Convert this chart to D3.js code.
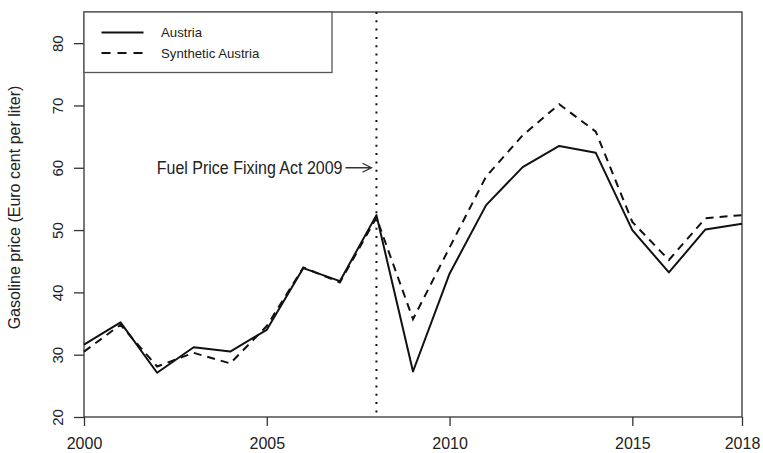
<!DOCTYPE html>
<html>
<head>
<meta charset="utf-8">
<script src="https://cdn.jsdelivr.net/npm/d3@7"></script>
<style>
  body { margin: 0; background: #fff; }
  svg { display: block; }
  text { font-family: "Liberation Sans", Arial, sans-serif; fill: #222; }
</style>
</head>
<body>
<svg width="763" height="453"></svg>
<script>
// data
var years = [2000, 2001, 2002, 2003, 2004, 2005, 2006, 2007, 2008, 2009,
             2010, 2011, 2012, 2013, 2014, 2015, 2016, 2017, 2018];
var austria = [31.6, 35.2, 27.1, 31.2, 30.5, 34.0, 43.9, 41.8, 52.4, 27.3,
               43.0, 54.0, 60.1, 63.5, 62.4, 50.0, 43.2, 50.1, 51.0];
var synthetic = [30.5, 34.8, 28.1, 30.3, 28.6, 34.6, 44.0, 41.6, 52.0, 35.7,
                 47.2, 58.6, 65.2, 70.2, 65.8, 51.3, 45.2, 51.9, 52.4];
var xTicks = [2000, 2005, 2010, 2015, 2018];
var yTicks = [20, 30, 40, 50, 60, 70, 80];
var treatYear = 2008;
var seriesNames = ["Austria", "Synthetic Austria"];

var svg = d3.select("svg"),
    margin = {top: 12, right: 21, bottom: 36, left: 84},
    width = +svg.attr("width") - margin.left - margin.right,
    height = +svg.attr("height") - margin.top - margin.bottom,
    g = svg.append("g").attr("transform", "translate(" + margin.left + "," + margin.top + ")");

var x = d3.scaleLinear().domain([2000, 2018]).range([0, width]);
var y = d3.scaleLinear().domain([20, 85]).range([height, 0]);

var stretch = 1.1; // the original text looks a bit taller than wide

/* ========== AXES ========== */

var xAxis = g.append("g")
    .attr("transform", "translate(0," + height + ")")
    .call(d3.axisBottom(x).tickValues(xTicks).tickFormat(d3.format("d")).tickSize(9));

var yAxis = g.append("g")
    .call(d3.axisLeft(y).tickValues(yTicks).tickSize(10));

[xAxis, yAxis].forEach(function(a) {
    a.select(".domain").remove();
    a.selectAll("line").attr("stroke", "#333").attr("stroke-width", 1.3);
});

// keep the labels low like the original, but inside the page
xAxis.selectAll("text")
    .attr("font-size", 16)
    .attr("fill", "#222")
    .attr("y", null).attr("dy", null)
    .attr("transform", "translate(0,31.5)");

// rotated y tick labels, R style
yAxis.selectAll("text")
    .attr("font-size", 15)
    .attr("fill", "#222")
    .attr("text-anchor", "middle")
    .attr("x", null).attr("dy", null)
    .attr("transform", "translate(-21,0) rotate(-90)");

// plot frame
g.append("rect")
    .attr("width", width)
    .attr("height", height)
    .attr("fill", "none")
    .attr("stroke", "#333")
    .attr("stroke-width", 1.3);

svg.append("text")
    .attr("transform", "translate(20," + (margin.top + height / 2 - 7) + ") rotate(-90)")
    .attr("text-anchor", "middle")
    .attr("font-size", 16)
    .text("Gasoline price (Euro cent per liter)");

/* ========== TREATMENT LINE + NOTE ========== */

g.append("line")
    .attr("x1", x(treatYear)).attr("x2", x(treatYear))
    .attr("y1", 0).attr("y2", height)
    .attr("stroke", "#111")
    .attr("stroke-width", 2)
    .attr("stroke-dasharray", "2,6.3");

var noteY = y(60);
g.append("text")
    .attr("transform", "translate(" + (x(treatYear) - 34) + "," + (noteY + 5.8) + ") scale(1," + stretch + ")")
    .attr("text-anchor", "end")
    .attr("font-size", 16)
    .text("Fuel Price Fixing Act 2009");

var ax0 = x(treatYear) - 31, ax1 = x(treatYear) - 5;
g.append("path")
    .attr("d", "M" + ax0 + "," + noteY + "L" + ax1 + "," + noteY +
               "M" + (ax1 - 9) + "," + (noteY - 4.5) + "L" + ax1 + "," + noteY +
               "L" + (ax1 - 9) + "," + (noteY + 4.5))
    .attr("fill", "none")
    .attr("stroke", "#333")
    .attr("stroke-width", 1.3);

/* ========== LINES ========== */

var line = d3.line()
    .x(function(d) { return x(d[0]); })
    .y(function(d) { return y(d[1]); });

g.append("path")
    .datum(years.map(function(yr, i) { return [yr, synthetic[i]]; }))
    .attr("d", line)
    .attr("fill", "none")
    .attr("stroke", "#111")
    .attr("stroke-width", 2)
    .attr("stroke-dasharray", "8,6");

g.append("path")
    .datum(years.map(function(yr, i) { return [yr, austria[i]]; }))
    .attr("d", line)
    .attr("fill", "none")
    .attr("stroke", "#111")
    .attr("stroke-width", 2)
    .attr("stroke-linejoin", "round");

/* ========== LEGEND ========== */

var legend = g.append("g");

legend.append("rect")
    .attr("x", 0).attr("y", 0)
    .attr("width", 248).attr("height", 60.5)
    .attr("fill", "#fff")
    .attr("stroke", "#555")
    .attr("stroke-width", 1.3);

var item = legend.selectAll(".item")
    .data(seriesNames)
    .enter().append("g")
    .attr("transform", function(d, i) { return "translate(0," + (20.5 + i * 20.5) + ")"; });

item.append("line")
    .attr("x1", 17.5).attr("x2", 59.5)
    .attr("stroke", "#111")
    .attr("stroke-width", 2)
    .attr("stroke-dasharray", function(d, i) { return i ? "9,7" : null; });

item.append("text")
    .attr("x", 77)
    .attr("dy", "0.36em")
    .attr("font-size", 13.2)
    .text(function(d) { return d; });
</script>
</body>
</html>
